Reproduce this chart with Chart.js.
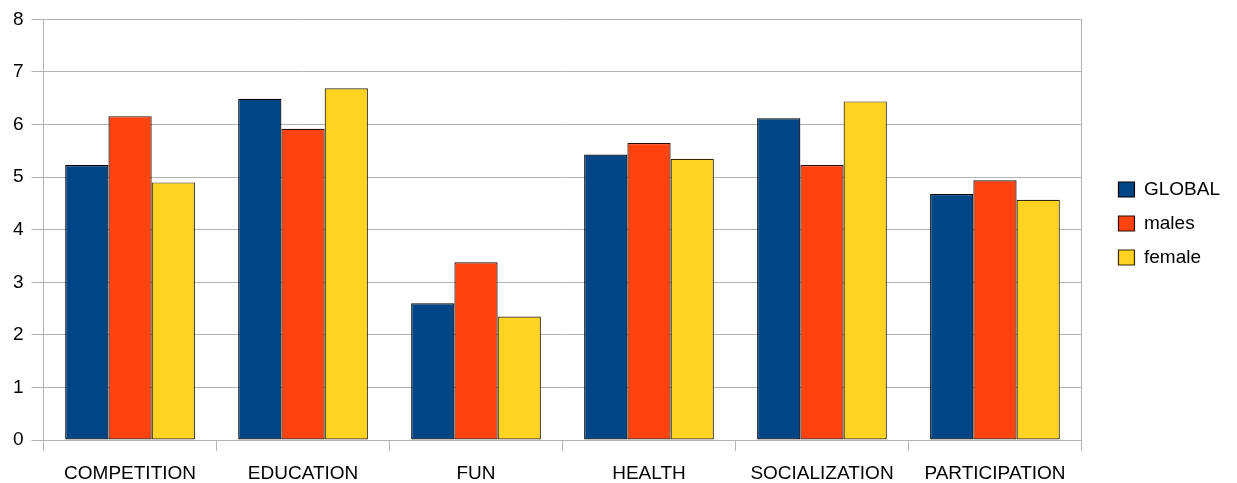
<!DOCTYPE html>
<html>
<head>
<meta charset="utf-8">
<script src="https://cdn.jsdelivr.net/npm/chart.js@4/dist/chart.umd.min.js"></script>
<style>
  html, body { margin: 0; padding: 0; background: #ffffff; }
  #wrap { width: 1237px; height: 483px; }
</style>
</head>
<body>
<div id="wrap"><canvas id="chart" width="1237" height="483"></canvas></div>
<script>
// Motivation scores per category
const categories = ['COMPETITION', 'EDUCATION', 'FUN', 'HEALTH', 'SOCIALIZATION', 'PARTICIPATION'];
const seriesNames = ['GLOBAL', 'males', 'female'];
const globalScores = [5.23, 6.49, 2.60, 5.43, 6.12, 4.68];
const maleScores   = [6.16, 5.92, 3.38, 5.65, 5.23, 4.94];
const femaleScores = [4.90, 6.69, 2.35, 5.35, 6.44, 4.57];
const yMin = 0, yMax = 8, yStep = 1;

const gridGray = '#b3b3b3';
const font = { family: '"Liberation Sans", Arial, sans-serif', size: 19 };

new Chart(document.getElementById('chart'), {
  type: 'bar',
  data: {
    labels: categories,
    datasets: [
      { label: seriesNames[0], data: globalScores, backgroundColor: '#004586', borderColor: '#000000', borderWidth: 1.2, borderSkipped: false },
      { label: seriesNames[1], data: maleScores,   backgroundColor: '#ff420e', borderColor: '#2a0a02', borderWidth: 1.2, borderSkipped: false },
      { label: seriesNames[2], data: femaleScores, backgroundColor: '#ffd320', borderColor: '#332805', borderWidth: 1.2, borderSkipped: false }
    ]
  },
  options: {
    responsive: false,
    animation: false,
    devicePixelRatio: 1,
    layout: { padding: { left: 5, right: 7, top: 8, bottom: 0 } },
    datasets: { bar: { categoryPercentage: 0.75, barPercentage: 1.0 } },
    plugins: {
      tooltip: { enabled: false },
      legend: {
        position: 'right',
        align: 'start',
        title: {
          // blank title used as top spacing for the legend column
          display: true,
          text: '',
          font: { size: 10, lineHeight: 1 },
          padding: { top: 147, bottom: 0 }
        },
        labels: {
          font: font,
          color: '#000000',
          boxWidth: 16,
          boxHeight: 15,
          padding: 15
        }
      }
    },
    scales: {
      x: {
        grid: {
          drawOnChartArea: false,
          drawTicks: true,
          tickLength: 11,
          color: gridGray
        },
        border: { display: true, color: gridGray },
        ticks: { font: font, color: '#000000', padding: 11, maxRotation: 0, autoSkip: false },
        afterFit: (scale) => { scale.height = 43; }
      },
      y: {
        min: yMin,
        max: yMax,
        grid: { color: gridGray, tickLength: 12, drawTicks: true },
        border: { display: true, color: gridGray },
        ticks: { stepSize: yStep, font: font, color: '#000000', padding: 8 }
      },
      frame: {
        // right-hand frame line of the plot area
        position: 'right',
        min: yMin,
        max: yMax,
        grid: { display: false },
        ticks: { display: false },
        border: { display: true, color: gridGray },
        afterFit: (scale) => { scale.width = 22; }
      }
    }
  }
});
</script>
</body>
</html>
